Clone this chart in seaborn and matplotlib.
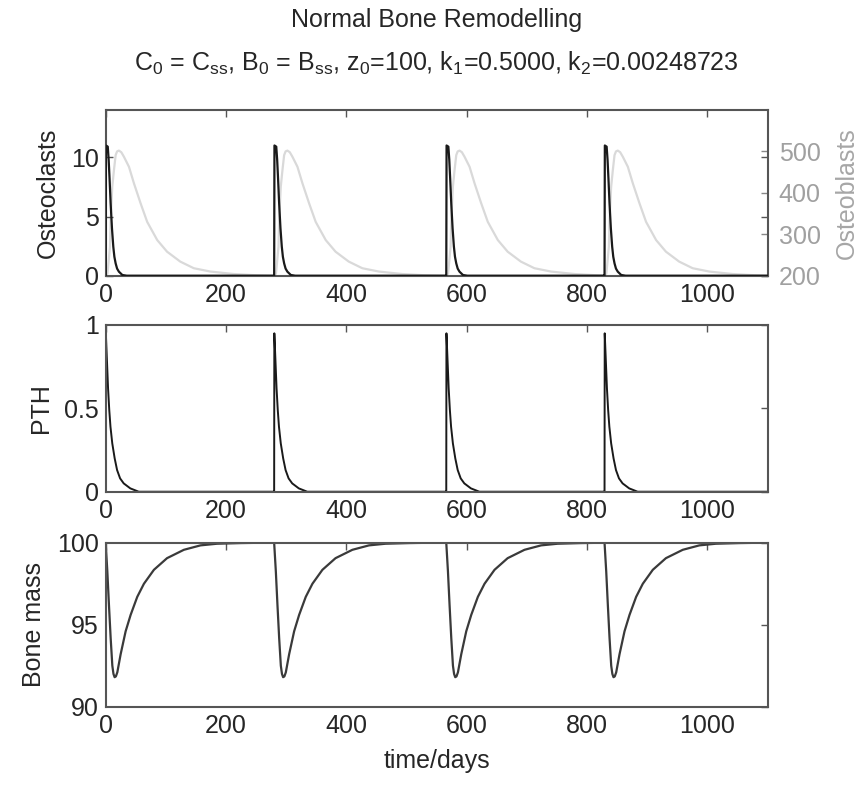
import numpy as np
import pandas as pd
import seaborn as sns
import matplotlib.pyplot as plt

# days at which each remodelling pulse starts
pulse_starts = [0, 280, 566, 829]

# one pulse: days after pulse start -> value
oc_days = [0, 0.5, 3.5, 5, 6.5, 8.3, 10.5, 12.7, 14.5, 16.6, 19, 22, 27.7, 35]
oc_vals = [0, 11.0, 10.9, 9.8, 8.2, 6.1, 4.0, 2.45, 1.6, 1.04, 0.6, 0.34, 0.06, 0]

ob_days = [0, 3, 5, 7.2, 8.3, 11, 13.8, 16.6, 19, 22, 26, 30.4, 38.7, 47, 58, 69, 85.7,
           102, 124, 146.5, 174, 213, 250, 275]
ob_vals = [200, 205, 235, 270, 334, 415, 455, 491, 500, 502, 498, 487, 463, 423, 375, 330, 286,
           258, 234, 218, 210, 204, 201, 200]

pth_days = [0, 0.3, 2, 4, 6, 8, 11, 15, 19, 24, 30, 41, 55]
pth_vals = [0, 0.95, 0.8, 0.62, 0.49, 0.39, 0.29, 0.2, 0.13, 0.08, 0.05, 0.02, 0]

bone_days = [0, 2.8, 5.5, 8.3, 11.1, 13, 14.9, 17, 19.4, 24.9, 33.2, 41.5, 52.5, 63.6, 80.2,
             102, 130, 157.6, 185, 224, 260]
bone_vals = [100, 98.25, 96.2, 94.2, 92.5, 92.0, 91.8, 91.85, 92.1, 93.2, 94.6, 95.6, 96.7, 97.5, 98.35,
             99.06, 99.57, 99.84, 99.94, 99.98, 100]

t_end = 1100


def build(days, vals, base):
    # lay the read pulse down at every start, flat base between pulses
    t, v = [], []
    for i, s in enumerate(pulse_starts):
        nxt = pulse_starts[i + 1] if i + 1 < len(pulse_starts) else t_end
        for d, y in zip(days, vals):
            if s + d < nxt:
                t.append(s + d)
                v.append(y)
        t.append(nxt - 0.01)
        v.append(base)
    return pd.DataFrame({'t': t, 'v': v})


df_oc = build(oc_days, oc_vals, 0)
df_ob = build(ob_days, ob_vals, 200)
df_pth = build(pth_days, pth_vals, 0)
df_bone = build(bone_days, bone_vals, 100)

sns.set_style('white')
plt.rcParams['font.family'] = ['Liberation Sans', 'DejaVu Sans']
plt.rcParams['mathtext.default'] = 'regular'
fs = 18
txt = '#262626'
spine = '#555555'

fig = plt.figure(figsize=(8.66, 7.85), dpi=100)
left, width = 0.122, 0.7644
ax1 = fig.add_axes([left, 0.6488, width, 0.2111])
ax2 = fig.add_axes([left, 0.3736, width, 0.2124])
ax3 = fig.add_axes([left, 0.0997, width, 0.2089])

sns.lineplot(data=df_oc, x='t', y='v', ax=ax1, color='#1a1a1a', lw=1.6, zorder=3)
ax1b = ax1.twinx()
sns.lineplot(data=df_ob, x='t', y='v', ax=ax1b, color='#d9d9d9', lw=1.6)
ax1.set_zorder(ax1b.get_zorder() + 1)
ax1.patch.set_visible(False)
sns.lineplot(data=df_pth, x='t', y='v', ax=ax2, color='#1a1a1a', lw=1.4)
sns.lineplot(data=df_bone, x='t', y='v', ax=ax3, color='#3a3a3a', lw=1.6)

ax1.set_ylim(0, 14)
ax1.set_yticks([0, 5, 10])
ax1b.set_ylim(200, 600)
ax1b.set_yticks([200, 300, 400, 500])
ax2.set_ylim(0, 1)
ax2.set_yticks([0, 0.5, 1])
ax2.set_yticklabels(['0', '0.5', '1'])
ax3.set_ylim(90, 100)
ax3.set_yticks([90, 95, 100])

for ax in [ax1, ax2, ax3]:
    ax.set_xlim(0, t_end)
    ax.set_xticks([0, 200, 400, 600, 800, 1000])
    ax.tick_params(direction='in', top=True, right=True, length=5, width=1,
                   color=spine, labelsize=fs, labelcolor=txt, pad=5)
    for s in ax.spines.values():
        s.set_color(spine)
        s.set_linewidth(1.5)
    ax.set_xlabel('')

ax1b.tick_params(direction='in', length=5, width=1, color='#888888',
                 labelsize=fs, labelcolor='#a0a0a0', pad=8)
for s in ax1b.spines.values():
    s.set_visible(False)

ax1.set_ylabel('Osteoclasts', fontsize=fs, color=txt, labelpad=8)
ax1b.set_ylabel('Osteoblasts', fontsize=fs, color='#a6a6a6', labelpad=10)
ax2.set_ylabel('PTH', fontsize=fs, color=txt, labelpad=8)
ax3.set_ylabel('Bone mass', fontsize=fs, color=txt, labelpad=8)
ax3.set_xlabel('time/days', fontsize=fs, color=txt, labelpad=8)

fig.text(0.504, 0.974, 'Normal Bone Remodelling', ha='center', va='center',
         fontsize=fs, color=txt)
fig.text(0.504, 0.919,
         r'C$_0$ = C$_{ss}$, B$_0$ = B$_{ss}$, z$_0$=100, k$_1$=0.5000, k$_2$=0.00248723',
         ha='center', va='center', fontsize=fs, color=txt)

fig.savefig('out.png', dpi=100)
